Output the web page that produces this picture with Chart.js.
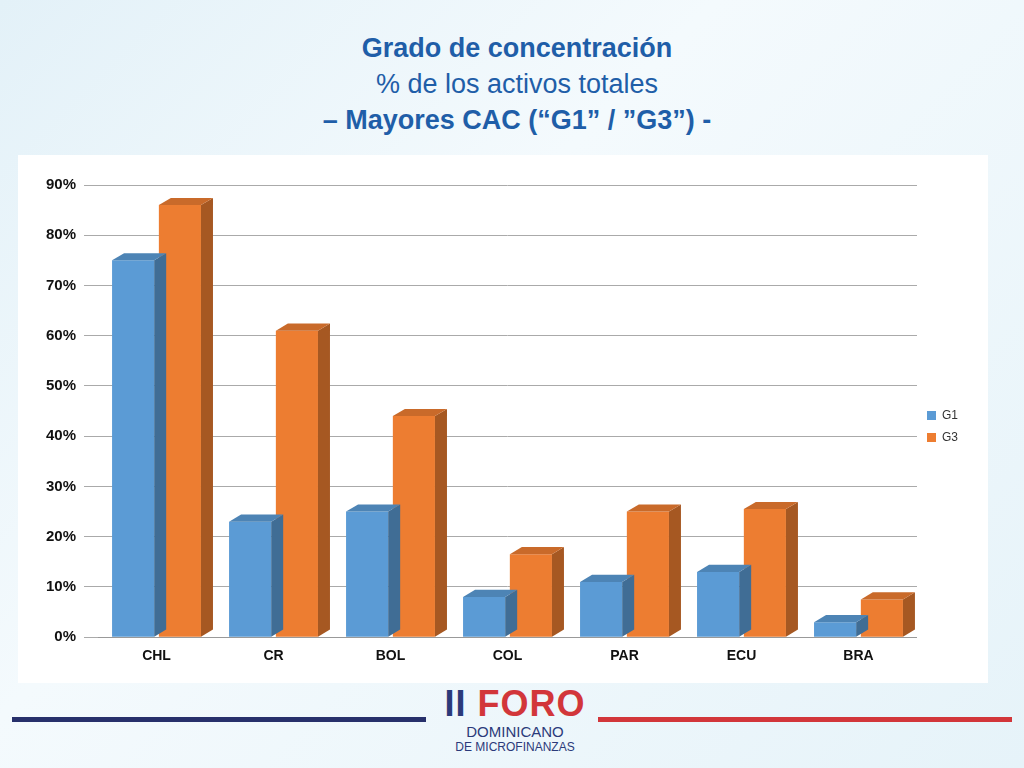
<!DOCTYPE html>
<html>
<head>
<meta charset="utf-8">
<script src="https://cdn.jsdelivr.net/npm/chart.js@4"></script>
<style>
body { margin:0; width:1024px; height:768px; overflow:hidden; font-family:"Liberation Sans", Arial, sans-serif;
  background: linear-gradient(135deg, #e3f1f8 0%, #f4fafd 40%, #e6f3f9 100%); position:relative; }
#title { position:absolute; top:30px; left:0; width:1034px; text-align:center; color:#1f5ea8; font-size:27px; line-height:36px; }
#box { position:absolute; left:18px; top:155px; width:970px; height:528px; background:#fff; }
.line { position:absolute; top:717px; height:5px; }
#logo { position:absolute; left:440px; top:684px; width:150px; text-align:center; color:#2b3a7a; }
</style>
</head>
<body>
<div id="title"><b>Grado de concentración</b><br>% de los activos totales<br><b>– Mayores CAC (“G1” / ”G3”) -</b></div>
<div id="box"><canvas id="c" width="970" height="528"></canvas></div>
<div class="line" style="left:12px;width:414px;background:#27306b"></div>
<div class="line" style="left:598px;width:414px;background:#d2363a"></div>
<div id="logo"><div style="font-size:36px;font-weight:bold;line-height:40px;letter-spacing:1px">II <span style="color:#d2363a">FORO</span></div>
<div style="font-size:15px;line-height:16px">DOMINICANO</div><div style="font-size:12px;line-height:14px">DE MICROFINANZAS</div></div>
<script>
const categories = ["CHL", "CR", "BOL", "COL", "PAR", "ECU", "BRA"];
const g1 = [75, 23, 25, 8, 11, 13, 3];
const g3 = [86, 61, 44, 16.5, 25, 25.5, 7.5];
const yTicks = [0, 10, 20, 30, 40, 50, 60, 70, 80, 90];

function shade(hex, f) {
    const n = parseInt(hex.slice(1), 16);
    const r = Math.round(((n >> 16) & 255) * f), g = Math.round(((n >> 8) & 255) * f), b = Math.round((n & 255) * f);
    return `rgb(${r},${g},${b})`;
}

// simple 3D faces on each bar
const depth = { id: "depth", afterDatasetsDraw(chart) {
    const ctx = chart.ctx, d = 12;
    chart.data.datasets.forEach((ds, i) => {
        chart.getDatasetMeta(i).data.forEach(bar => {
            const l = bar.x - bar.width / 2, r = bar.x + bar.width / 2, t = bar.y, b = bar.base;
            ctx.fillStyle = shade(ds.backgroundColor, 0.7);
            ctx.beginPath(); ctx.moveTo(r, t); ctx.lineTo(r + d, t - d * 0.6); ctx.lineTo(r + d, b - d * 0.6); ctx.lineTo(r, b); ctx.fill();
            ctx.fillStyle = shade(ds.backgroundColor, 0.85);
            ctx.beginPath(); ctx.moveTo(l, t); ctx.lineTo(l + d, t - d * 0.6); ctx.lineTo(r + d, t - d * 0.6); ctx.lineTo(r, t); ctx.fill();
        });
    });
}};

new Chart(document.getElementById("c"), {
    type: "bar",
    data: {
        labels: categories,
        datasets: [
            { label: "G1", data: g1, backgroundColor: "#5b9bd5" },
            { label: "G3", data: g3, backgroundColor: "#ed7d31" }
        ]
    },
    options: {
        responsive: false, animation: false,
        layout: { padding: { top: 30, left: 20, right: 20, bottom: 15 } },
        plugins: {
            legend: { position: "right", labels: { boxWidth: 9, boxHeight: 9, font: { size: 12 }, color: "#333" } },
            tooltip: { enabled: false }
        },
        scales: {
            x: { grid: { display: false }, border: { color: "#999" },
                 ticks: { color: "#111", font: { size: 14, weight: "bold" } },
                 categoryPercentage: 0.58, barPercentage: 1 },
            y: { min: 0, max: 90, afterBuildTicks: a => { a.ticks = yTicks.map(v => ({ value: v })); },
                 grid: { color: "#aaa", tickLength: 14 }, border: { display: false },
                 ticks: { color: "#111", font: { size: 15, weight: "bold" }, padding: 8, callback: v => v + "%" } }
        }
    },
    plugins: [depth]
});
</script>
</body>
</html>
